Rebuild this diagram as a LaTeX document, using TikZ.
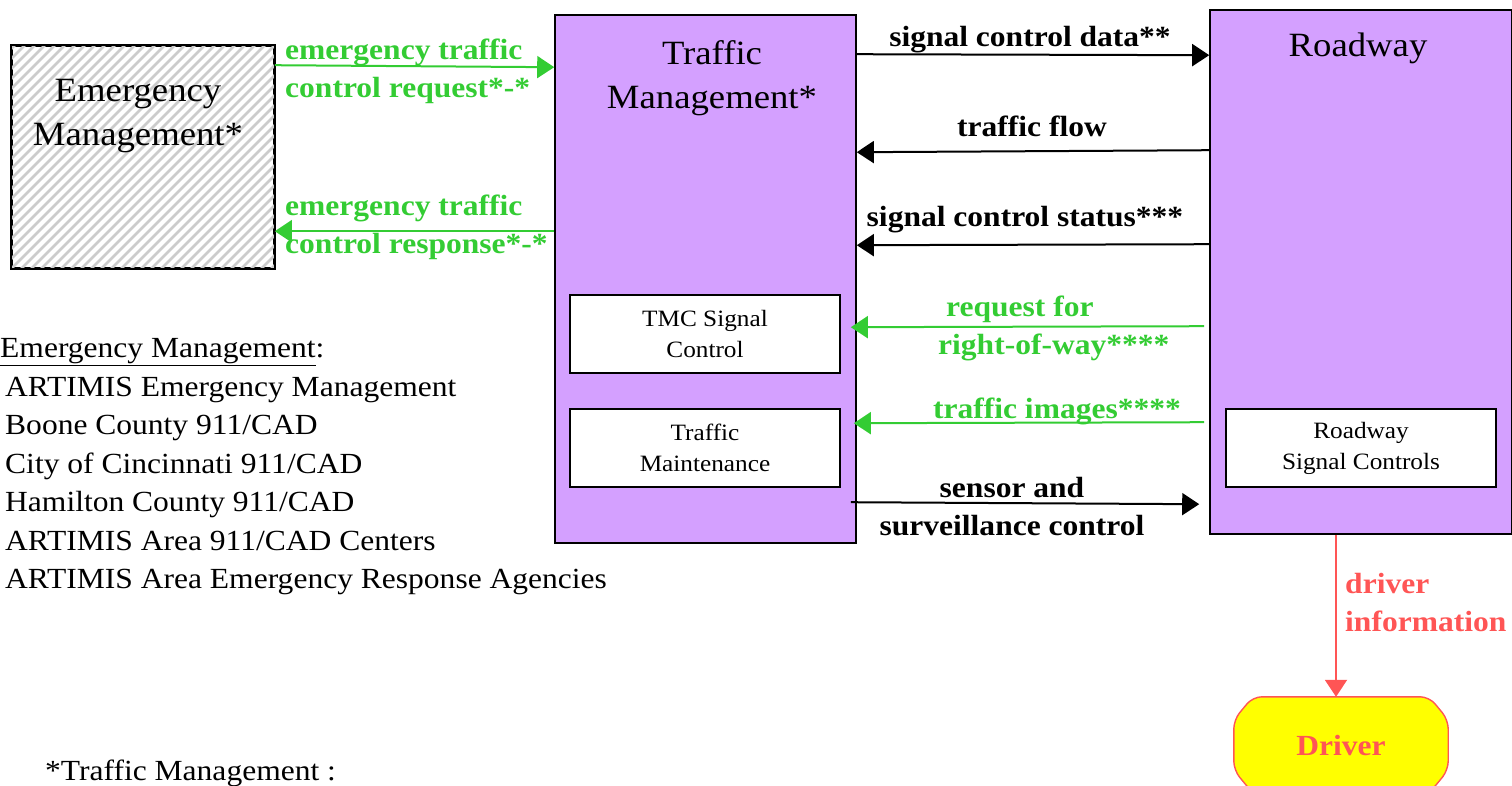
\documentclass[tikz,border=0pt]{standalone}
\usepackage{fontspec}
\setmainfont{Liberation Serif}[FakeStretch=1.08]
\usetikzlibrary{arrows.meta,backgrounds}
\definecolor{tmpurple}{RGB}{212,160,255}
\definecolor{flowgreen}{RGB}{51,204,51}
\definecolor{flowred}{RGB}{255,85,85}
\definecolor{drvyellow}{RGB}{255,255,0}
\tikzset{
  box/.style={draw=black, line width=1.6pt, inner sep=0pt},
  bigbox/.style={box, fill=tmpurple},
  subbox/.style={box, fill=white, align=center, font=\fontsize{23.4}{31}\selectfont},
  titletext/.style={inner sep=0pt, align=center, font=\fontsize{34}{44}\selectfont},
  lbl/.style={inner sep=0pt, font=\bfseries\fontsize{29.2}{38}\selectfont},
  listtext/.style={inner sep=0pt, align=left, anchor=west, font=\fontsize{29.2}{38.4}\selectfont},
  flow/.style={line width=2pt, -{Triangle[length=17pt,width=22pt]}},
  blackflow/.style={flow, draw=black},
  greenflow/.style={flow, draw=flowgreen, fill=flowgreen},
  redflow/.style={flow, draw=flowred, fill=flowred},
  hatch/.style={draw=black!20, line width=2.8pt}
}
\begin{document}
\begin{tikzpicture}[x=1pt,y=-1pt]
\useasboundingbox (0,0) rectangle (1512,785);
% Emergency Management
\node[box, minimum width=262, minimum height=222, fill=white] (em) at (143,157) {};
\begin{scope}
  \clip (em.south west) rectangle (em.north east);
  \foreach \i in {-240,-230,...,270} \draw[hatch] ([xshift=\i pt]em.south west) -- ++(240,-240);
\end{scope}
\draw[line width=1.6pt] (em.south west) rectangle (em.north east);
\node[titletext] (emt) at (138,116) {Emergency\\Management*};
% Traffic Management
\node[bigbox, minimum width=301, minimum height=528] (tm) at (705.5,279) {};
\node[titletext] (tmt) at (712,78) {Traffic\\Management*};
\node[subbox, minimum width=270, minimum height=78] (tmc) at (705,334) {TMC Signal\\Control};
\node[subbox, minimum width=270, minimum height=78] (tmaint) at (705,448) {Traffic\\Maintenance};
% Roadway
\node[bigbox, minimum width=302, minimum height=524] (rw) at (1361,272) {};
\node[titletext] (rwt) at (1358,48) {Roadway};
\node[subbox, minimum width=270, minimum height=78] (rsc) at (1361,448) {Roadway\\Signal Controls};
% Driver
\node[inner sep=0pt, minimum width=214, minimum height=96, text=flowred, font=\bfseries\fontsize{29.2}{38}\selectfont] (drv) at (1341,745) {Driver};
\begin{scope}[on background layer]
\draw[draw=flowred, fill=drvyellow, line width=1.4pt, rounded corners=9pt]
  ([xshift=19pt]drv.north west) -- ([xshift=-19pt]drv.north east) -- ([yshift=-23pt]drv.north east)
  -- ([yshift=23pt]drv.south east) -- ([xshift=-19pt]drv.south east) -- ([xshift=19pt]drv.south west)
  -- ([yshift=23pt]drv.south west) -- ([yshift=-23pt]drv.north west) -- cycle;
\end{scope}
% flows between Emergency and Traffic Management
\draw[greenflow] ([yshift=-20pt]em.north east) -- ([yshift=-53pt]tm.north west);
\node[lbl, text=flowgreen, align=left, anchor=west] (l1) at (285,71) {emergency traffic\\control request*-*};
\draw[greenflow] ([yshift=-217pt]tm.north west) -- ([yshift=-186pt]em.north east);
\node[lbl, text=flowgreen, align=left, anchor=west] (l2) at (285,227) {emergency traffic\\control response*-*};
% flows between Traffic Management and Roadway
\draw[blackflow] ([yshift=-40pt]tm.north east) -- ([yshift=-46pt]rw.north west);
\node[lbl] (l3) at (1030,40) {signal control data**};
\draw[blackflow] ([yshift=-141pt]rw.north west) -- ([yshift=-138pt]tm.north east);
\node[lbl] (l4) at (1032,126) {traffic flow};
\draw[blackflow] ([yshift=-235pt]rw.north west) -- ([yshift=-231pt]tm.north east);
\node[lbl] (l5) at (1025,220) {signal control status***};
\draw[greenflow] ([xshift=-5pt,yshift=-317pt]rw.north west) -- ([xshift=-6pt,yshift=-313pt]tm.north east);
\node[lbl, text=flowgreen, align=left, anchor=west] (l6) at (938,328) {\hspace*{8pt}request for\\right-of-way****};
\draw[greenflow] ([xshift=-5pt,yshift=-413pt]rw.north west) -- ([xshift=-3pt,yshift=-409pt]tm.north east);
\node[lbl, text=flowgreen] (l7) at (1057,411) {traffic images****};
\draw[blackflow] ([xshift=-6pt,yshift=-488pt]tm.north east) -- ([xshift=-10pt,yshift=-495pt]rw.north west);
\node[lbl, align=center] (l8) at (1012,507) {sensor and\\surveillance control};
% Roadway to Driver
\draw[redflow] ([xshift=-25pt]rw.south) -- ([xshift=-5pt]drv.north);
\node[lbl, text=flowred, align=left, anchor=west] (l9) at (1345,603) {driver\\information};
% legend text
\node[listtext] (hdr) at (0,352) {\underline{Emergency Management}:};
\node[listtext] (lst) at (5,486) {ARTIMIS Emergency Management\\Boone County 911/CAD\\City of Cincinnati 911/CAD\\Hamilton County 911/CAD\\ARTIMIS Area 911/CAD Centers\\ARTIMIS Area Emergency Response Agencies};
\node[listtext] (foot) at (45,773) {*Traffic Management :};
\end{tikzpicture}
\end{document}
